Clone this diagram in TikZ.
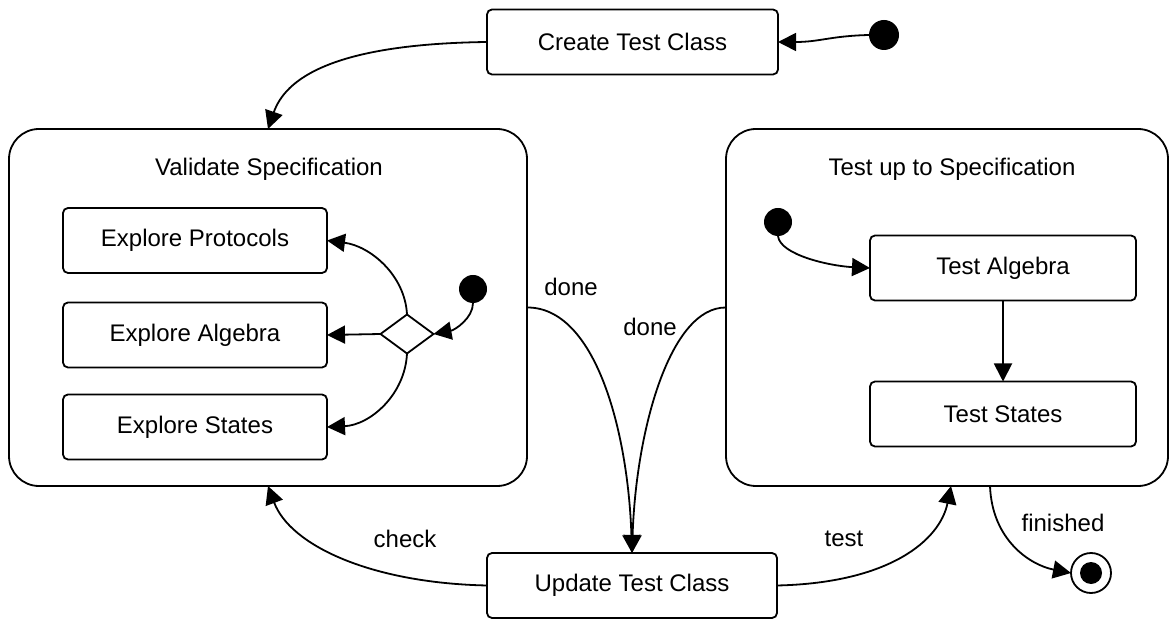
\documentclass[tikz,border=0pt]{standalone}
\usepackage{fontspec}
\setmainfont{Liberation Sans}
\usetikzlibrary{shapes.geometric,arrows.meta}
\begin{document}
\begin{tikzpicture}[x=0.5pt,y=-0.5pt,
  font=\fontsize{12pt}{14pt}\selectfont,
  every node/.style={outer sep=0pt, inner sep=0pt},
  line width=0.9pt,
  statebox/.style={draw, rounded corners=2.5pt, minimum width=#1, minimum height=32.5pt},
  superstate/.style={draw, rounded corners=15pt, minimum width=#1, minimum height=178.5pt},
  initdot/.style={circle, fill=black, minimum size=#1},
  arr/.style={-{Triangle[length=9pt,width=9pt]}},
  lbl/.style={anchor=center}
]
\useasboundingbox (0,0) rectangle (1171,619);

% superstates
\node[superstate=259pt] (val) at (268,307.5) {};
\node[superstate=221pt] (tup) at (947,307.5) {};
\node[lbl] (valtitle) at (269,169) {Validate Specification};
\node[lbl] (tuptitle) at (952,169) {Test up to Specification};

% top
\node[statebox=145.5pt] (create) at (632.5,42) {Create Test Class};
\node[initdot=15pt] (init) at (884,35) {};

% validate internals
\node[statebox=132pt] (ep) at (195,240.5) {Explore Protocols};
\node[statebox=132pt] (ea) at (195,335) {Explore Algebra};
\node[statebox=132pt] (es) at (195,427) {Explore States};
\node[draw, diamond, minimum width=26.5pt, minimum height=19.5pt, fill=white] (dia) at (407,334) {};
\node[initdot=14pt] (vdot) at (473,289) {};

% test internals
\node[initdot=14pt] (tdot) at (778,222) {};
\node[statebox=133pt] (ta) at (1003,268) {Test Algebra};
\node[statebox=133pt] (ts) at (1003,414) {Test States};

% bottom
\node[statebox=145pt] (upd) at (632,585.5) {Update Test Class};
\node[draw, circle, minimum size=20pt] (fin) at (1091,573) {};
\node[initdot=11pt] (finin) at (1091,573) {};

% connectors
\draw[arr] (init.west) .. controls (830,36) and (820,42) .. (create.east);
\draw[arr] (create.west) .. controls (330,44) and (285,80) .. (val.north);

\draw[arr] (vdot.south) .. controls (473,318) and (455,330) .. (dia.east);
\draw[arr] (dia.north) .. controls (405,275) and (370,246) .. (ep.east);
\draw[arr] (dia.west) -- (ea.east);
\draw[arr] (dia.south) .. controls (405,395) and (370,425) .. (es.east);

\draw[arr] (tdot.south) .. controls (780,255) and (830,266) .. (ta.west);
\draw[arr] (ta.south) -- (ts.north);

\draw[arr] (val.east) .. controls (595,307) and (628,430) .. (upd.north);
\draw[arr] (tup.west) .. controls (670,307) and (636,430) .. (upd.north);
\node[lbl] (done1) at (571,287) {done};
\node[lbl] (done2) at (650,327) {done};

\draw[arr] (upd.west) .. controls (370,583) and (290,545) .. (val.south);
\node[lbl] (check) at (405,539) {check};

\draw[arr] (upd.east) .. controls (890,583) and (940,540) .. ([xshift=2pt]tup.south);
\node[lbl] (test) at (844,539) {test};

\draw[arr] ([xshift=21.5pt]tup.south) .. controls (992,540) and (1030,565) .. (fin.west);
\node[lbl] (finished) at (1063,523) {finished};
\end{tikzpicture}
\end{document}
